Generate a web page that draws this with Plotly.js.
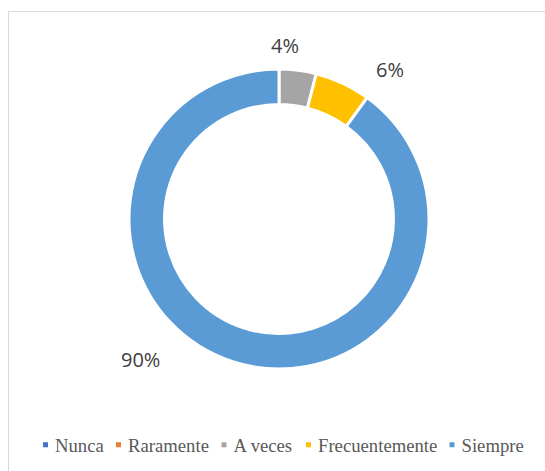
<!DOCTYPE html>
<html>
<head>
<meta charset="utf-8">
<script src="https://cdn.plot.ly/plotly-3.0.1.min.js"></script>
<style>html,body{margin:0;padding:0;background:#fff;}#chart{width:545px;height:471px;}</style>
</head>
<body>
<div id="chart"></div>
<script>
// Data
const categories = ["Nunca", "Raramente", "A veces", "Frecuentemente", "Siempre"];
const values = [0, 0, 4, 6, 90];
const colors = ["#4472C4", "#ED7D31", "#A5A5A5", "#FFC000", "#5B9BD5"];

// Layout helpers (positions, in pixels of the 545x471 page)
const W = 545, H = 471;
const labelPos = { "A veces": [284.5, 46], "Frecuentemente": [390, 70], "Siempre": [140.5, 359] };
const legendX = [15, 88, 193.5, 278, 421.5];
const legendY = 445;

const total = values.reduce((a, b) => a + b, 0);

const traces = [{
  type: "pie",
  labels: categories,
  values: values,
  sort: false,
  direction: "clockwise",
  rotation: 0,
  hole: 0.763,
  textinfo: "none",
  hoverinfo: "skip",
  showlegend: false,
  marker: { colors: colors, line: { color: "#ffffff", width: 3 } },
  domain: { x: [129 / W, 429 / W], y: [(H - 369) / H, (H - 69) / H] }
}];

const layout = {
  width: W, height: H,
  margin: { l: 0, r: 0, t: 0, b: 0, autoexpand: false },
  paper_bgcolor: "#ffffff",
  plot_bgcolor: "#ffffff",
  xaxis: { visible: false, domain: [0, 0.01] },
  yaxis: { visible: false, domain: [0, 0.01] },
  shapes: [{
    type: "rect", xref: "paper", yref: "paper",
    x0: 8.5 / W, x1: 1.2, y0: -0.2, y1: (H - 11.5) / H,
    line: { color: "#D9D9D9", width: 1 }, fillcolor: "rgba(0,0,0,0)"
  }],
  annotations: [],
  hovermode: false
};

categories.forEach((c, i) => {
  const legKey = i === 0 ? "legend" : "legend" + (i + 1);
  // legend key: a short 5px-thick dash drawn near the right end of the legend line slot
  traces.push({
    type: "scatter", mode: "lines",
    x: [null], y: [null],
    name: c,
    legend: legKey,
    line: { color: colors[i], width: 5, dash: "0px,23px,5px,100px" },
    hoverinfo: "skip"
  });
  layout[legKey] = {
    x: legendX[i] / W, y: (H - legendY) / H,
    xanchor: "left", yanchor: "middle",
    xref: "paper", yref: "paper",
    orientation: "h",
    bgcolor: "rgba(0,0,0,0)", borderwidth: 0,
    font: { family: "Liberation Serif, Times New Roman, serif", size: 18.7, color: "#595959" },
    itemclick: false, itemdoubleclick: false
  };
  if (values[i] > 0 && labelPos[c]) {
    const p = labelPos[c];
    layout.annotations.push({
      xref: "paper", yref: "paper",
      x: p[0] / W, y: (H - p[1]) / H,
      xanchor: "center", yanchor: "middle",
      showarrow: false,
      text: Math.round(values[i] * 100 / total) + "%",
      font: { family: "Open Sans, Liberation Sans, sans-serif", size: 20, color: "#404040" }
    });
  }
});

Plotly.newPlot("chart", traces, layout, { displayModeBar: false, staticPlot: true });
</script>
</body>
</html>
